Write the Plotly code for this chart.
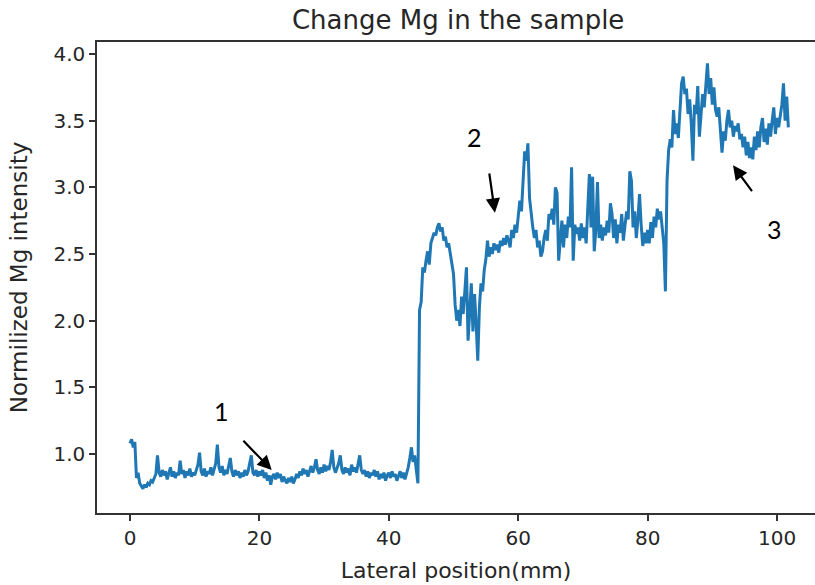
import numpy as np
import plotly.graph_objects as go

# Sampling grid (mm): 0 .. 101.75 in 0.25 mm steps
x_start, x_step = 0.0, 0.25

mg_0_10 = [1.08, 1.11, 1.05, 1.09, 0.82, 0.86, 0.78, 0.76, 0.74, 0.77,
           0.75, 0.78, 0.77, 0.80, 0.79, 0.82, 0.85, 0.99, 0.86, 0.83,
           0.88, 0.84, 0.87, 0.81, 0.86, 0.90, 0.83, 0.87, 0.82, 0.86,
           0.84, 0.95, 0.85, 0.88, 0.82, 0.87, 0.84, 0.89, 0.83, 0.86]
mg_10_20 = [0.84, 0.88, 0.92, 1.01, 0.87, 0.84, 0.89, 0.83, 0.87, 0.85,
            0.90, 0.84, 0.88, 0.93, 1.07, 0.90, 0.86, 0.91, 0.84, 0.88,
            0.85, 0.90, 0.97, 0.87, 0.83, 0.88, 0.84, 0.87, 0.82, 0.86,
            0.83, 0.88, 0.84, 0.87, 0.92, 0.99, 0.86, 0.84, 0.88, 0.83]
mg_20_30 = [0.87, 0.84, 0.88, 0.82, 0.86, 0.80, 0.84, 0.77, 0.83, 0.85,
            0.81, 0.86, 0.82, 0.85, 0.79, 0.83, 0.80, 0.78, 0.82, 0.79,
            0.83, 0.78, 0.81, 0.85, 0.82, 0.87, 0.84, 0.89, 0.85, 0.88,
            0.83, 0.87, 0.91, 0.86, 0.90, 0.96, 0.88, 0.85, 0.90, 0.86]
mg_30_40 = [0.92, 0.87, 0.91, 0.88, 0.94, 1.03, 0.90, 0.86, 0.89, 0.93,
            0.99, 0.88, 0.85, 0.90, 0.86, 0.89, 0.84, 0.92, 0.87, 0.90,
            0.86, 0.93, 0.99, 0.88, 0.85, 0.88, 0.83, 0.87, 0.82, 0.86,
            0.84, 0.88, 0.83, 0.87, 0.81, 0.85, 0.82, 0.86, 0.80, 0.84]
mg_40_50 = [0.86, 0.82, 0.87, 0.83, 0.85, 0.80, 0.84, 0.87, 0.82, 0.86,
            0.81, 0.85, 0.90, 0.97, 1.05, 0.94, 0.99, 0.88, 0.78, 2.08,
            2.14, 2.40, 2.36, 2.45, 2.52, 2.42, 2.58, 2.62, 2.66, 2.64,
            2.70, 2.73, 2.67, 2.70, 2.60, 2.63, 2.55, 2.58, 2.50, 2.45]
mg_50_60 = [2.35, 2.12, 2.00, 2.08, 1.96, 2.18, 2.05, 2.22, 2.40, 1.85,
            2.10, 2.28, 1.92, 2.20, 1.98, 1.70, 2.10, 2.28, 2.22, 2.38,
            2.46, 2.60, 2.48, 2.55, 2.50, 2.58, 2.53, 2.57, 2.51, 2.60,
            2.56, 2.62, 2.57, 2.64, 2.60, 2.55, 2.68, 2.62, 2.72, 2.66]
mg_60_70 = [2.78, 2.90, 2.82, 3.05, 3.27, 3.20, 3.33, 2.92, 2.80, 2.70,
            2.62, 2.68, 2.55, 2.60, 2.48, 2.52, 2.62, 2.68, 2.60, 2.80,
            2.76, 2.84, 2.72, 3.00, 2.96, 2.45, 2.60, 2.75, 2.55, 2.72,
            2.62, 2.78, 2.70, 3.15, 2.45, 2.72, 2.65, 2.70, 2.60, 2.73]
mg_70_80 = [2.62, 2.70, 2.58, 2.85, 3.10, 2.70, 3.08, 2.52, 2.68, 3.04,
            2.62, 2.72, 2.60, 2.70, 2.64, 2.75, 2.66, 2.88, 2.80, 2.62,
            2.76, 2.58, 2.72, 2.66, 2.80, 2.60, 2.70, 2.82, 2.76, 3.12,
            3.05, 2.70, 2.82, 2.62, 2.76, 2.95, 2.72, 2.56, 2.66, 2.58]
mg_80_90 = [2.68, 2.58, 2.74, 2.62, 2.78, 2.70, 2.84, 2.76, 2.82, 2.72,
            2.58, 2.22, 3.05, 3.28, 3.36, 3.30, 3.58, 3.40, 3.48, 3.37,
            3.55, 3.78, 3.83, 3.70, 3.74, 3.55, 3.66, 3.48, 3.20, 3.62,
            3.55, 3.76, 3.38, 3.52, 3.70, 3.60, 3.75, 3.93, 3.70, 3.82]
mg_90_102 = [3.62, 3.75, 3.58, 3.53, 3.60, 3.40, 3.26, 3.42, 3.35, 3.50,
             3.58, 3.45, 3.50, 3.38, 3.46, 3.42, 3.48, 3.36, 3.40, 3.30,
             3.38, 3.24, 3.34, 3.22, 3.30, 3.21, 3.38, 3.28, 3.42, 3.30,
             3.45, 3.52, 3.34, 3.44, 3.32, 3.48, 3.38, 3.50, 3.60, 3.40,
             3.52, 3.45, 3.55, 3.62, 3.78, 3.50, 3.68, 3.45]

mg_intensity = (mg_0_10 + mg_10_20 + mg_20_30 + mg_30_40 + mg_40_50 +
                mg_50_60 + mg_60_70 + mg_70_80 + mg_80_90 + mg_90_102)
position_mm = x_start + x_step * np.arange(len(mg_intensity))

x_ticks = [0, 20, 40, 60, 80, 100]
y_ticks = [1.0, 1.5, 2.0, 2.5, 3.0, 3.5, 4.0]

# Callouts: label, label position, arrow tail, arrow head (data units)
callout_labels = ["1", "2", "3"]
label_pos = [(14.2, 1.32), (53.3, 3.38), (99.6, 2.69)]
arrow_tail = [(17.3, 1.11), (55.5, 3.115), (96.3, 2.96)]
arrow_head = [(21.9, 0.88), (56.4, 2.81), (93.2, 3.165)]

BASE_FONT = "DejaVu Sans"
TEXT_COLOR = "#262626"
AX_COLOR = "#333333"

fig = go.Figure()
fig.add_trace(go.Scatter(
    x=position_mm, y=mg_intensity, mode="lines",
    line=dict(color="#1f77b4", width=3),
    showlegend=False,
))

annotations = []
for lab, (lx, ly), (tx, ty), (hx, hy) in zip(callout_labels, label_pos, arrow_tail, arrow_head):
    annotations.append(dict(
        x=hx, y=hy, xref="x", yref="y", ax=tx, ay=ty, axref="x", ayref="y",
        text="", showarrow=True, arrowhead=2, arrowsize=1.3, arrowwidth=2.2,
        arrowcolor="black", standoff=0, startstandoff=0,
    ))
    annotations.append(dict(
        x=lx, y=ly, xref="x", yref="y", text=lab, showarrow=False,
        font=dict(family="Lato", size=25, color="black"),
        xanchor="center", yanchor="middle",
    ))

fig.update_layout(
    width=815, height=585,
    margin=dict(l=97, r=0, t=42, b=72, autoexpand=False),
    paper_bgcolor="white", plot_bgcolor="white",
    font=dict(family=BASE_FONT, color=TEXT_COLOR, size=20),
    title=dict(text="Change Mg in the sample", x=0.503, xref="paper",
               xanchor="center", y=0.966, yref="container", yanchor="middle",
               automargin=False,
               font=dict(family=BASE_FONT, size=26, color=TEXT_COLOR)),
    annotations=annotations,
    xaxis=dict(
        automargin=False,
        range=[-5.10, 105.87], tickvals=x_ticks, ticktext=[str(v) for v in x_ticks],
        showgrid=False, zeroline=False,
        showline=True, mirror=True, linecolor=AX_COLOR, linewidth=1.5,
        ticks="outside", ticklen=6, tickwidth=1.5, tickcolor=AX_COLOR,
        tickfont=dict(family=BASE_FONT, size=20, color=TEXT_COLOR),
        title=dict(text="Lateral position(mm)", standoff=14,
                   font=dict(family=BASE_FONT, size=22, color=TEXT_COLOR)),
    ),
    yaxis=dict(
        automargin=False,
        range=[0.5575, 4.09], tickvals=y_ticks, ticktext=[f"{v:.1f}" for v in y_ticks],
        showgrid=False, zeroline=False,
        showline=True, mirror=False, linecolor=AX_COLOR, linewidth=1.5,
        ticks="outside", ticklen=6, tickwidth=1.5, tickcolor=AX_COLOR,
        tickfont=dict(family=BASE_FONT, size=20, color=TEXT_COLOR),
        title=dict(text="Normilized Mg intensity", standoff=19,
                   font=dict(family=BASE_FONT, size=23, color=TEXT_COLOR)),
    ),
)

# Remove the browser's default 8px page margin so the figure sits at (0, 0)
fig.write_html("out.html",
               config={"displayModeBar": False},
               post_script="document.body.style.margin='0px';"
                           "document.body.style.overflow='hidden';")
